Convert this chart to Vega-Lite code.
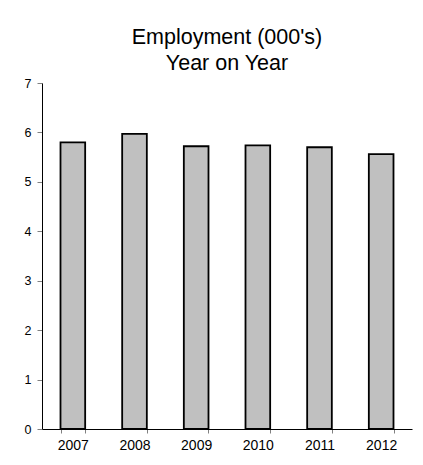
{
  "$schema": "https://vega.github.io/schema/vega-lite/v6.json",
  "width": 370,
  "height": 346,
  "autosize": {"type": "none"},
  "padding": {"left": 42, "top": 83, "right": 11, "bottom": 36},
  "background": "white",
  "title": {
    "text": ["Employment (000's)", "Year on Year"],
    "font": "Liberation Sans",
    "fontSize": 21.5,
    "fontWeight": "normal",
    "color": "black",
    "lineHeight": 26,
    "anchor": "middle",
    "offset": 3
  },
  "data": {
    "values": [
      {"year": "2007", "employment": 5.80},
      {"year": "2008", "employment": 5.97},
      {"year": "2009", "employment": 5.72},
      {"year": "2010", "employment": 5.74},
      {"year": "2011", "employment": 5.70},
      {"year": "2012", "employment": 5.56}
    ]
  },
  "mark": {"type": "bar", "fill": "#c0c0c0", "stroke": "black", "strokeWidth": 1.8},
  "encoding": {
    "x": {
      "field": "year",
      "type": "ordinal",
      "scale": {"paddingInner": 0.6, "paddingOuter": 0.3},
      "axis": {
        "title": null,
        "labelAngle": 0,
        "tickBand": "extent",
        "labelFontSize": 14,
        "labelPadding": 5
      }
    },
    "y": {
      "field": "employment",
      "type": "quantitative",
      "scale": {"domain": [0, 7], "nice": false},
      "axis": {
        "title": null,
        "values": [0, 1, 2, 3, 4, 5, 6, 7],
        "grid": false,
        "labelFontSize": 12.5,
        "labelPadding": 6,
        "tickSize": 5
      }
    }
  },
  "config": {
    "view": {"stroke": null},
    "font": "Liberation Sans",
    "axis": {
      "domainColor": "black",
      "domainWidth": 1,
      "tickColor": "#808080",
      "tickWidth": 1,
      "tickSize": 4,
      "labelColor": "black",
      "labelFont": "Liberation Sans"
    }
  }
}
